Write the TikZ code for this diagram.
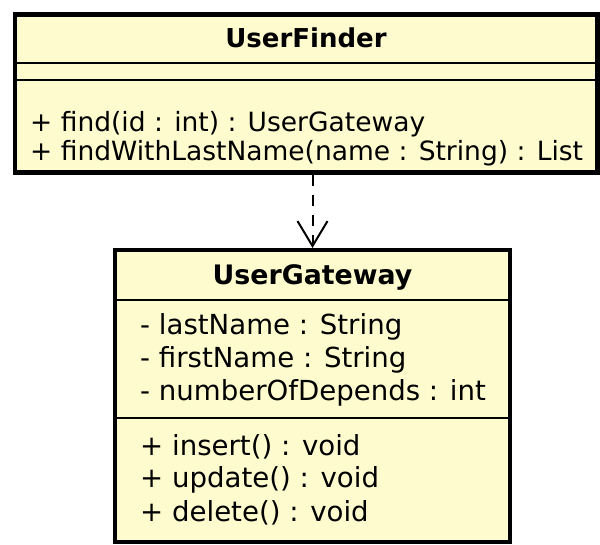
\documentclass[tikz,border=0pt]{standalone}
\usepackage{fontspec}
\setmainfont{DejaVu Sans}
\usetikzlibrary{arrows.meta}
\definecolor{classfill}{RGB}{254,252,206}

\begin{document}
\begin{tikzpicture}[x=1pt, y=-1pt,
    classbox/.style={draw, rectangle, fill=classfill, line width=4.5pt,
      inner sep=0pt, anchor=north west},
    sepline/.style={line width=1.8pt},
    classname/.style={inner sep=0pt, font=\bfseries},
    member/.style={anchor=west, inner sep=0pt},
    depend/.style={line width=2pt, dash pattern=on 11pt off 9pt,
      -{Straight Barb[length=25pt, width=30pt]}}]
  \useasboundingbox (0,0) rectangle (600,545);

  % UserFinder
  \node[classbox, minimum width=582.5pt, minimum height=158pt] (finder) at (12.5,12.5) {};
  \node[classname, font=\bfseries\fontsize{26}{30}\selectfont] (findername) at (finder.north |- 0,38) {UserFinder};
  \draw[sepline] (finder.west |- 0,63) -- (finder.east |- 0,63);
  \draw[sepline] (finder.west |- 0,80) -- (finder.east |- 0,80);
  \node[member, font=\fontsize{26.5}{30}\selectfont] (find) at (30,124) {+ find(id : int) : UserGateway};
  \node[member, font=\fontsize{26.5}{30}\selectfont] (findlast) at (30,153) {+ findWithLastName(name : String) : List};

  % UserGateway
  \node[classbox, line width=4pt, minimum width=395pt, minimum height=292pt] (gateway) at (113,248) {};
  \node[classname, font=\bfseries\fontsize{26.8}{31}\selectfont] (gatewayname) at (gateway.north |- 0,277) {UserGateway};
  \draw[sepline] (gateway.west |- 0,300) -- (gateway.east |- 0,300);
  \draw[sepline] (gateway.west |- 0,418) -- (gateway.east |- 0,418);
  \foreach \y/\txt [count=\i] in {327/{- lastName : String}, 360/{- firstName : String},
      393/{- numberOfDepends : int}, 447/{+ insert() : void},
      480/{+ update() : void}, 513/{+ delete() : void}}{
    \node[member, font=\fontsize{27.6}{32}\selectfont] (gm\i) at (140,\y) {\txt};
  }

  \draw[depend] (gateway.north |- finder.south) -- (gateway.north);
\end{tikzpicture}
\end{document}
